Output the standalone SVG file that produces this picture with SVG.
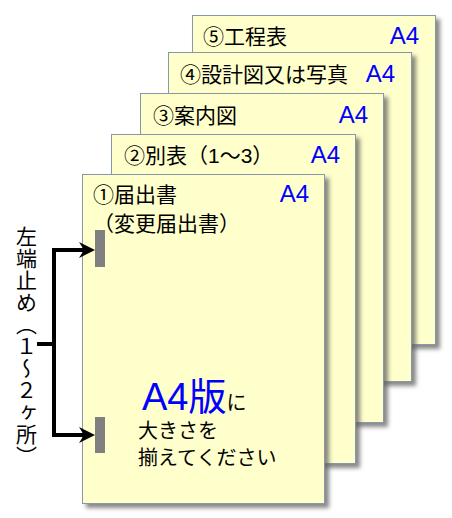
<svg xmlns="http://www.w3.org/2000/svg" width="452" height="518" viewBox="0 0 452 518">
<style>
.page{fill:#FFFFCC;stroke:#8898A8;stroke-width:1;filter:url(#sh)}
.t{font-family:"Liberation Sans","Noto Sans CJK JP",sans-serif;fill:#000}
.lbl{font-size:21px}
.a4{font-family:"Liberation Sans",sans-serif;font-size:24px;fill:#0000FF;text-anchor:end}
.bar{fill:#808080}
.con{stroke:#000;stroke-width:4;fill:none}
</style>
<defs>
<filter id="sh" x="-10%" y="-10%" width="130%" height="130%">
<feDropShadow dx="4" dy="4" stdDeviation="2.2" flood-color="#606060" flood-opacity="0.75"/>
</filter>
<marker id="ah" markerUnits="userSpaceOnUse" viewBox="-12 -9 18 18" markerWidth="18" markerHeight="18" refX="0" refY="0" orient="auto">
<path d="M5,0 L-11,-8 L-6,0 L-11,8 Z" fill="#000"/>
</marker>
</defs>
<g id="page5">
<rect class="page" x="192.5" y="15.5" width="243" height="329"/>
<text class="t lbl" x="203" y="44">⑤工程表</text>
<text class="a4" x="419" y="44">A4</text>
</g>
<g id="page4">
<rect class="page" x="168.5" y="52.5" width="243" height="329"/>
<text class="t lbl" x="180" y="82">④設計図又は写真</text>
<text class="a4" x="395" y="82">A4</text>
</g>
<g id="page3">
<rect class="page" x="140.5" y="93.5" width="243" height="329"/>
<text class="t lbl" x="153" y="123">③案内図</text>
<text class="a4" x="368" y="123">A4</text>
</g>
<g id="page2">
<rect class="page" x="111.5" y="134.5" width="244" height="329"/>
<text class="t lbl" x="124" y="163">②別表（1～3）</text>
<text class="a4" x="340" y="163">A4</text>
</g>
<g id="page1">
<rect class="page" x="82.5" y="174.5" width="242" height="329"/>
<text class="t lbl" x="93" y="202">①届出書</text>
<text class="t lbl" x="93" y="231">（変更届出書）</text>
<text class="a4" x="309" y="202">A4</text>
<rect class="bar" x="95" y="230" width="10" height="37"/>
<rect class="bar" x="95" y="417" width="10" height="36"/>
<text class="t" x="142" y="410"><tspan font-size="38" fill="#0000FF">A4版</tspan><tspan font-size="20">に</tspan></text>
<text class="t" x="138" y="438" font-size="20">大きさを</text>
<text class="t" x="138" y="465" font-size="20">揃えてください</text>
</g>
<g id="side-label">
<text class="t" x="25" y="226" font-size="21" letter-spacing="1" style="writing-mode:vertical-rl">左端止め（１～２ヶ所）</text>
</g>
<g id="connectors">
<path class="con" d="M37,344 H54"/>
<path class="con" d="M54,250 V435"/>
<path class="con" d="M52,250 H90" marker-end="url(#ah)"/>
<path class="con" d="M52,435 H90" marker-end="url(#ah)"/>
</g>
</svg>
